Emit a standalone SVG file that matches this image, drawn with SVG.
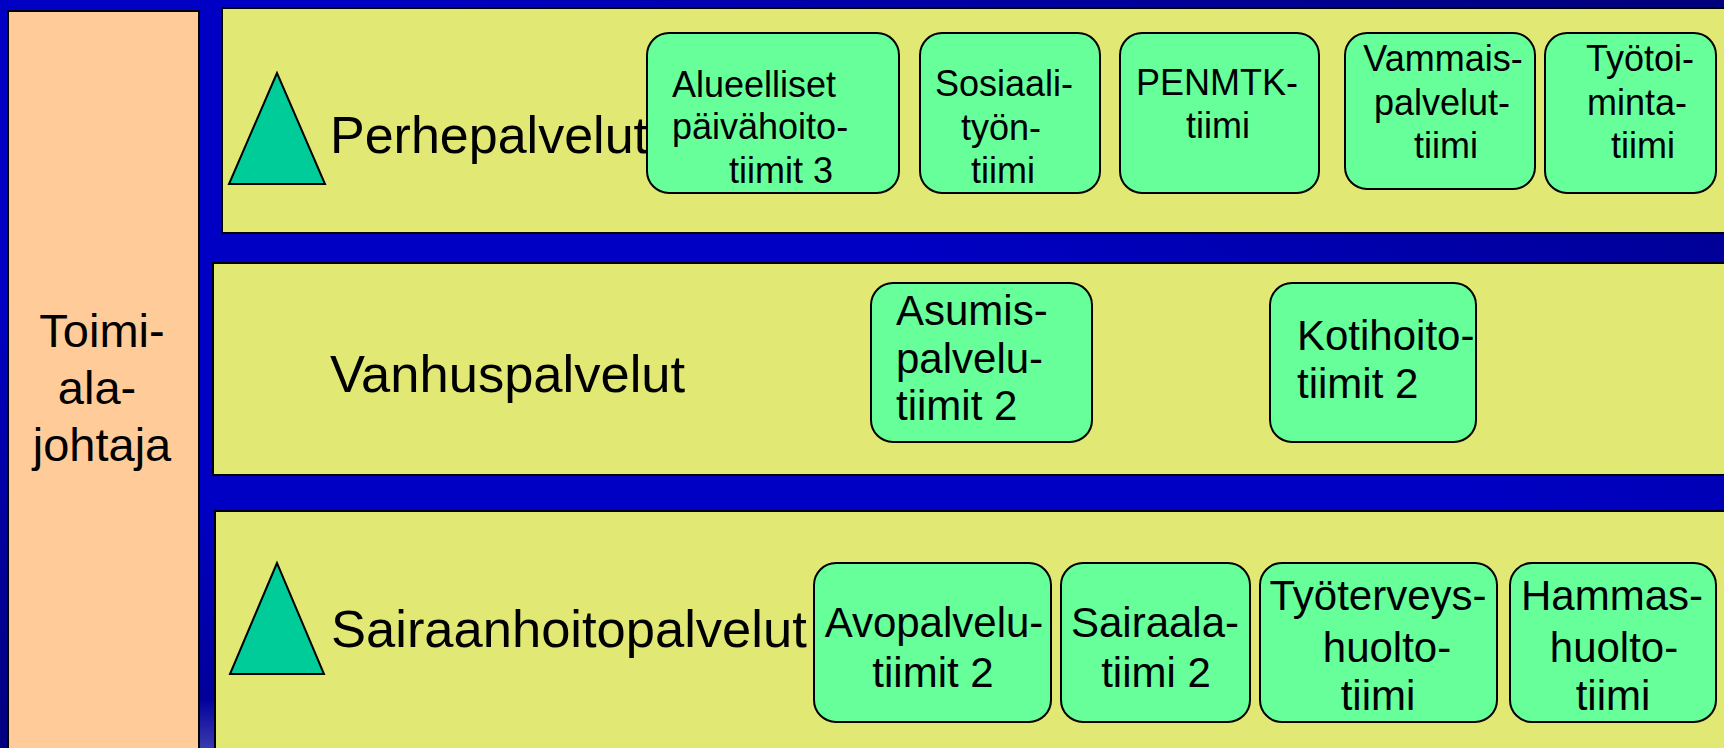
<svg xmlns="http://www.w3.org/2000/svg" width="1724" height="748" viewBox="0 0 1724 748">
  <defs>
    <linearGradient id="bg" x1="0" y1="1" x2="1" y2="0">
      <stop offset="0" stop-color="#0000C4"/>
      <stop offset="0.6" stop-color="#0000C4"/>
      <stop offset="1" stop-color="#00007A"/>
    </linearGradient>
    <linearGradient id="leftstrip" x1="0" y1="0" x2="0" y2="1">
      <stop offset="0" stop-color="#0000C4"/>
      <stop offset="0.5" stop-color="#0000A0"/>
      <stop offset="1" stop-color="#000080"/>
    </linearGradient>
    <linearGradient id="gap" x1="0" y1="0" x2="0" y2="1">
      <stop offset="0" stop-color="#0000C4"/>
      <stop offset="0.8" stop-color="#00009A"/>
      <stop offset="1" stop-color="#3A3AB0"/>
    </linearGradient>
  </defs>
  <style>
    .band { fill: #E1E873; stroke: #000; stroke-width: 2; }
    .head { fill: #FFCC99; stroke: #000; stroke-width: 2; }
    .box { fill: #66FF99; stroke: #000; stroke-width: 2; }
    .tri { fill: #00CC99; stroke: #000; stroke-width: 2; stroke-linejoin: miter; }
    text { font-family: "Liberation Sans", Arial, sans-serif; fill: #000; }
    .big { font-size: 52px; }
    .t36 { font-size: 36px; }
    .t42 { font-size: 42px; }
    .t47 { font-size: 47px; }
    .c { text-anchor: middle; }
  </style>

  <rect x="0" y="0" width="1724" height="748" fill="url(#bg)"/>
  <rect x="0" y="300" width="8" height="448" fill="url(#leftstrip)"/>
  <rect x="199" y="500" width="16" height="248" fill="url(#gap)"/>

  <g id="toimialajohtaja">
    <rect class="head" x="8" y="11" width="191" height="760"/>
    <text class="t47 c" x="102" y="347">Toimi-</text>
    <text class="t47 c" x="97" y="404">ala-</text>
    <text class="t47 c" x="102" y="461">johtaja</text>
  </g>

  <g id="perhepalvelut">
    <rect class="band" x="222" y="8" width="1540" height="225"/>
    <polygon class="tri" points="277,73 229,184 325,184"/>
    <text class="big" x="330" y="153">Perhepalvelut</text>
  </g>

  <g id="vanhuspalvelut">
    <rect class="band" x="213" y="263" width="1550" height="212"/>
    <text class="big" x="330" y="392" style="font-size:52.5px">Vanhuspalvelut</text>
  </g>

  <g id="sairaanhoitopalvelut">
    <rect class="band" x="215" y="511" width="1550" height="260"/>
    <polygon class="tri" points="277,563 230,674 324,674"/>
    <text class="big" x="331" y="647" style="font-size:52.5px">Sairaanhoitopalvelut</text>
  </g>

  <g id="alueelliset">
    <rect class="box" x="647" y="33" width="252" height="160" rx="22"/>
    <text class="t36" x="672" y="97">Alueelliset</text>
    <text class="t36" x="672" y="139">päivähoito-</text>
    <text class="t36" x="729" y="183">tiimit 3</text>
  </g>
  <g id="sosiaalityo">
    <rect class="box" x="920" y="33" width="180" height="160" rx="22"/>
    <text class="t36 c" x="1004" y="96">Sosiaali-</text>
    <text class="t36 c" x="1001" y="140">työn-</text>
    <text class="t36 c" x="1003" y="183">tiimi</text>
  </g>
  <g id="penmtk">
    <rect class="box" x="1120" y="33" width="199" height="160" rx="22"/>
    <text class="t36 c" x="1217" y="95">PENMTK-</text>
    <text class="t36 c" x="1218" y="138">tiimi</text>
  </g>
  <g id="vammais">
    <rect class="box" x="1345" y="33" width="190" height="156" rx="22"/>
    <text class="t36 c" x="1443" y="71">Vammais-</text>
    <text class="t36 c" x="1442" y="115">palvelut-</text>
    <text class="t36 c" x="1446" y="158">tiimi</text>
  </g>
  <g id="tyotoiminta">
    <rect class="box" x="1545" y="33" width="171" height="160" rx="22"/>
    <text class="t36 c" x="1640" y="71">Työtoi-</text>
    <text class="t36 c" x="1637" y="115">minta-</text>
    <text class="t36 c" x="1643" y="158">tiimi</text>
  </g>

  <g id="asumispalvelu">
    <rect class="box" x="871" y="283" width="221" height="159" rx="22"/>
    <text class="t42" x="896" y="325">Asumis-</text>
    <text class="t42" x="896" y="373">palvelu-</text>
    <text class="t42" x="896" y="420">tiimit 2</text>
  </g>
  <g id="kotihoito">
    <rect class="box" x="1270" y="283" width="206" height="159" rx="22"/>
    <text class="t42" x="1297" y="350">Kotihoito-</text>
    <text class="t42" x="1297" y="398">tiimit 2</text>
  </g>

  <g id="avopalvelu">
    <rect class="box" x="814" y="563" width="237" height="159" rx="22"/>
    <text class="t42 c" x="934" y="637">Avopalvelu-</text>
    <text class="t42 c" x="933" y="687">tiimit 2</text>
  </g>
  <g id="sairaala">
    <rect class="box" x="1061" y="563" width="189" height="159" rx="22"/>
    <text class="t42 c" x="1155" y="637">Sairaala-</text>
    <text class="t42 c" x="1156" y="687">tiimi 2</text>
  </g>
  <g id="tyoterveys">
    <rect class="box" x="1260" y="563" width="237" height="159" rx="22"/>
    <text class="t42 c" x="1378" y="610">Työterveys-</text>
    <text class="t42 c" x="1387" y="662">huolto-</text>
    <text class="t42 c" x="1378" y="710">tiimi</text>
  </g>
  <g id="hammashuolto">
    <rect class="box" x="1510" y="563" width="206" height="159" rx="22"/>
    <text class="t42 c" x="1612" y="610">Hammas-</text>
    <text class="t42 c" x="1614" y="662">huolto-</text>
    <text class="t42 c" x="1613" y="710">tiimi</text>
  </g>

  <g id="connectors"/>
</svg>
